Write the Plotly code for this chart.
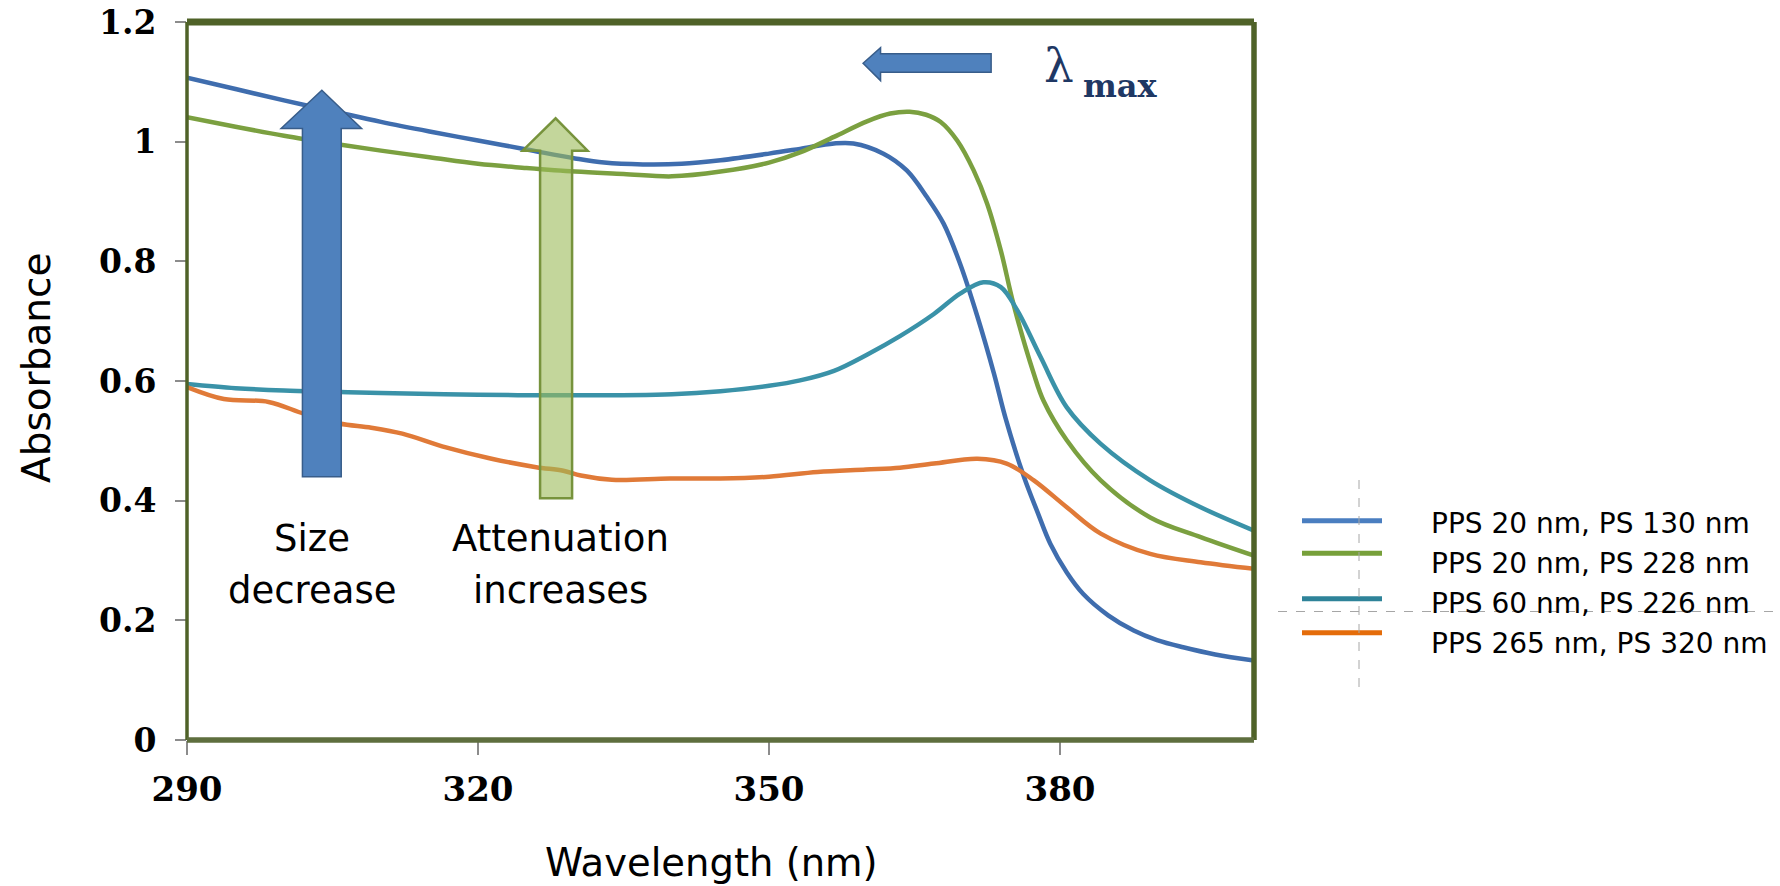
import plotly.graph_objects as go

# ---------------- data ----------------
wl_a = [290, 295, 300, 305, 310, 315, 320, 325, 330, 333, 337, 341, 345, 350, 353.2, 356.7,
        358.7, 361.8, 364.2, 366.3, 368.0, 369.7, 371.5, 373.2, 374.4, 376.3, 377.7, 379,
        380.7, 382.4, 385, 387.6, 390, 392.7, 396, 400]
abs_a = [1.107, 1.088, 1.069, 1.051, 1.033, 1.017, 1.002, 0.987, 0.972, 0.965, 0.962, 0.963,
         0.969, 0.980, 0.988, 0.997, 0.997, 0.980, 0.952, 0.907, 0.863, 0.796, 0.707, 0.612,
         0.537, 0.439, 0.380, 0.328, 0.280, 0.244, 0.208, 0.183, 0.167, 0.155, 0.143, 0.133]

wl_b = [290, 295, 300, 305, 310, 315, 320, 325, 330, 335, 340, 345, 350, 353.2, 356.7, 360.1,
        362.5, 364.5, 366.2, 367.7, 369.4, 371.1, 372.5, 373.9, 375.2, 377.3, 378.3, 380.7,
        384.2, 389.3, 394.5, 400]
abs_b = [1.041, 1.025, 1.010, 0.997, 0.985, 0.974, 0.963, 0.956, 0.950, 0.946, 0.942, 0.950,
         0.965, 0.982, 1.008, 1.034, 1.047, 1.050, 1.045, 1.033, 1.002, 0.952, 0.896, 0.818,
         0.729, 0.612, 0.567, 0.501, 0.434, 0.372, 0.339, 0.308]

wl_c = [290, 295, 300, 305, 310, 320, 330, 340, 345, 350, 353.2, 356.7, 360.1, 363.5, 367.0,
        369.7, 372.1, 373.9, 375.6, 378.0, 380.7, 384.2, 389.3, 394.5, 400]
abs_c = [0.595, 0.588, 0.584, 0.582, 0.580, 0.577, 0.576, 0.578, 0.583, 0.592, 0.601, 0.617,
         0.644, 0.675, 0.712, 0.746, 0.765, 0.757, 0.718, 0.640, 0.556, 0.495, 0.434, 0.389,
         0.350]

wl_d = [290, 293.8, 298.4, 302.1, 305.7, 309, 312.2, 316.7, 321.4, 326, 328.8, 330.6, 333.8,
        339.8, 345, 350, 355, 360, 363.5, 367, 371.5, 374.5, 377.3, 380.7, 384.2, 389.3,
        394.5, 400]
abs_d = [0.590, 0.570, 0.565, 0.545, 0.529, 0.522, 0.512, 0.489, 0.470, 0.456, 0.450, 0.442,
         0.435, 0.437, 0.437, 0.440, 0.448, 0.452, 0.455, 0.462, 0.470, 0.462, 0.434, 0.389,
         0.345, 0.311, 0.297, 0.286]

series_names = ["PPS 20 nm, PS 130 nm", "PPS 20 nm, PS 228 nm",
                "PPS 60 nm, PS 226 nm", "PPS 265 nm, PS 320 nm"]
series_x = [wl_a, wl_b, wl_c, wl_d]
series_y = [abs_a, abs_b, abs_c, abs_d]
series_colors = ["#3F6DAE", "#7BA040", "#3A92A8", "#E07A38"]
legend_colors = ["#4A7EC0", "#77A03A", "#2E8399", "#E46C0A"]

x_ticks = [290, 320, 350, 380]
y_ticks = [0, 0.2, 0.4, 0.6, 0.8, 1.0, 1.2]
y_ticktext = ["0", "0.2", "0.4", "0.6", "0.8", "1", "1.2"]

# ---------------- layout geometry (pixels) ----------------
W, H = 1780, 886
PL, PR, PT, PB = 187, 1254, 22, 740


def px(xp):
    return (xp - PL) / (PR - PL)


def py(yp):
    return (PB - yp) / (PB - PT)


fig = go.Figure()
for name, xs, ys, col in zip(series_names, series_x, series_y, series_colors):
    fig.add_trace(go.Scatter(x=xs, y=ys, mode="lines", name=name,
                             line=dict(color=col, width=4.5, shape="spline", smoothing=1.0),
                             showlegend=False))

shapes = []
annotations = []

# plot frame
frame = "#4F6228"
shapes.append(dict(type="line", xref="paper", yref="paper", x0=0, x1=1, y0=1, y1=1,
                   line=dict(color=frame, width=7)))
shapes.append(dict(type="line", xref="paper", yref="paper", x0=1, x1=1, y0=0, y1=1,
                   line=dict(color=frame, width=5.5)))
shapes.append(dict(type="line", xref="paper", yref="paper", x0=0, x1=0, y0=0, y1=1,
                   line=dict(color=frame, width=3.5)))
shapes.append(dict(type="line", xref="paper", yref="paper", x0=0, x1=1, y0=0, y1=0,
                   line=dict(color="#5E6E3E", width=5.5)))

# block arrows (decorations)
blue_arrow = "M301.9,0.440 L301.9,1.022 L299.7,1.022 L303.9,1.086 L308.0,1.022 L305.9,1.022 L305.9,0.440 Z"
shapes.append(dict(type="path", xref="x", yref="y", path=blue_arrow,
                   fillcolor="#4F81BD", line=dict(color="#385D8A", width=1.5), layer="above"))
green_arrow = "M326.4,0.404 L326.4,0.985 L324.6,0.985 L328.0,1.039 L331.3,0.985 L329.7,0.985 L329.7,0.404 Z"
shapes.append(dict(type="path", xref="x", yref="y", path=green_arrow,
                   fillcolor="rgba(155,187,89,0.6)", line=dict(color="#77933C", width=2.5),
                   layer="above"))
left_arrow = "M359.7,1.131 L361.5,1.157 L361.5,1.147 L372.9,1.147 L372.9,1.116 L361.5,1.116 L361.5,1.102 Z"
shapes.append(dict(type="path", xref="x", yref="y", path=left_arrow,
                   fillcolor="#4F81BD", line=dict(color="#385D8A", width=1.5), layer="above"))

# legend (manual)
leg_line_y = [520.7, 553.3, 598.7, 632.7]
leg_text_y = [523, 563, 603, 643]
for name, col, ly, ty in zip(series_names, legend_colors, leg_line_y, leg_text_y):
    shapes.append(dict(type="line", xref="paper", yref="paper", x0=px(1302), x1=px(1382),
                       y0=py(ly), y1=py(ly), line=dict(color=col, width=5)))
    annotations.append(dict(text=name, xref="paper", yref="paper", x=px(1429), y=py(ty),
                            xanchor="left", yanchor="middle", showarrow=False,
                            font=dict(family="DejaVu Sans", size=28, color="black")))

# dashed crosshair in legend area
shapes.append(dict(type="line", xref="paper", yref="paper", x0=px(1359), x1=px(1359),
                   y0=py(480), y1=py(687), line=dict(color="#A6A6A6", width=1, dash="dash")))
shapes.append(dict(type="line", xref="paper", yref="paper", x0=px(1278), x1=px(1780),
                   y0=py(611.5), y1=py(611.5), line=dict(color="#A6A6A6", width=1, dash="dash")))

# text annotations
txt_font = dict(family="DejaVu Sans", size=37, color="black")
for txt, cx, cy in [("Size", 312, 538), ("decrease", 312, 590),
                    ("Attenuation", 560, 538), ("increases", 560, 590)]:
    annotations.append(dict(text=txt, xref="paper", yref="paper", x=px(cx), y=py(cy),
                            xanchor="center", yanchor="middle", showarrow=False, font=txt_font))
annotations.append(dict(text="λ", xref="paper", yref="paper", x=px(1059), y=py(66),
                        xanchor="center", yanchor="middle", showarrow=False,
                        font=dict(family="DejaVu Serif", size=47, color="#1F3864")))
annotations.append(dict(text="<b>max</b>", xref="paper", yref="paper", x=px(1120), y=py(86),
                        xanchor="center", yanchor="middle", showarrow=False,
                        font=dict(family="DejaVu Serif", size=32, color="#1F3864")))

# axis titles
annotations.append(dict(text="Wavelength (nm)", xref="paper", yref="paper", x=px(711), y=py(862),
                        xanchor="center", yanchor="middle", showarrow=False,
                        font=dict(family="DejaVu Sans", size=38.5, color="black")))
annotations.append(dict(text="Absorbance", xref="paper", yref="paper", x=px(36), y=py(368),
                        xanchor="center", yanchor="middle", showarrow=False, textangle=-90,
                        font=dict(family="DejaVu Sans", size=39, color="black")))

fig.update_layout(
    width=W, height=H, autosize=False,
    margin=dict(l=PL, r=W - PR, t=PT, b=H - PB, pad=0, autoexpand=False),
    plot_bgcolor="white", paper_bgcolor="white",
    showlegend=False,
    shapes=shapes, annotations=annotations,
    xaxis=dict(range=[290, 400], tickvals=x_ticks, ticktext=[str(v) for v in x_ticks],
               ticks="outside", ticklen=14, tickwidth=1.5, tickcolor="#8C8C8C",
               showgrid=False, zeroline=False, showline=False, automargin=False,
               tickfont=dict(family="DejaVu Serif", size=34, color="black", weight="bold"),
               ticklabelstandoff=5),
    yaxis=dict(range=[0, 1.2], tickvals=y_ticks, ticktext=y_ticktext,
               ticks="outside", ticklen=11, tickwidth=1.5, tickcolor="#8C8C8C",
               showgrid=False, zeroline=False, showline=False, automargin=False,
               tickfont=dict(family="DejaVu Serif", size=33, color="black", weight="bold"),
               ticklabelstandoff=12),
)

fig.write_html("out.html", config={"displayModeBar": False},
               post_script="document.body.style.margin='0';document.body.style.overflow='hidden';")
